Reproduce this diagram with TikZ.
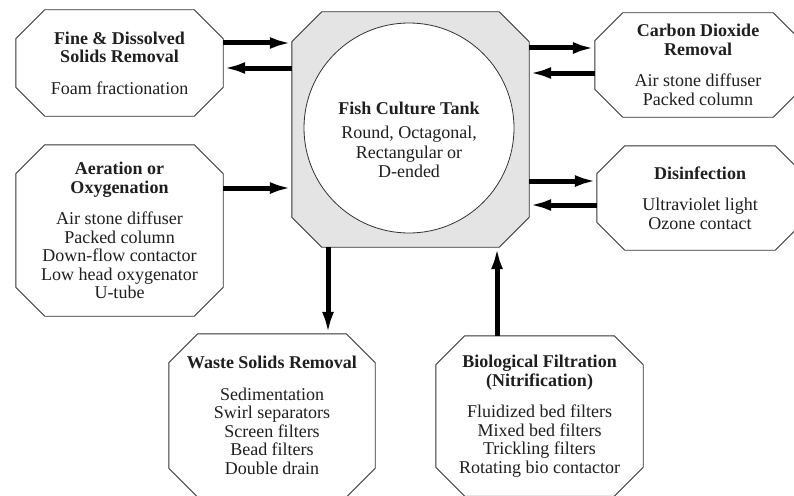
\documentclass[tikz,border=0pt]{standalone}
\usepackage{fontspec}
\setmainfont{Liberation Serif}
\usetikzlibrary{arrows.meta}
\definecolor{tankgray}{HTML}{E4E4E4}
\definecolor{edgegray}{HTML}{333333}
\tikzset{
  txt/.style={rectangle, inner sep=0pt, align=center, text=black!88,
    font=\fontsize{18}{18.5}\selectfont},
  boxline/.style={draw=edgegray, line width=0.9pt},
  arr/.style={line width=5pt, -{Latex[length=22pt,width=12pt]}},
}
% name, cx, cy, width, height, cut, text
\newcommand{\octbox}[7]{%
  \node[txt, minimum width=#4pt, minimum height=#5pt] (#1) at (#2,#3) {#7};
  \draw[boxline] ([xshift=#6pt]#1.north west) -- ([xshift=-#6pt]#1.north east)
    -- ([yshift=-#6pt]#1.north east) -- ([yshift=#6pt]#1.south east)
    -- ([xshift=-#6pt]#1.south east) -- ([xshift=#6pt]#1.south west)
    -- ([yshift=#6pt]#1.south west) -- ([yshift=-#6pt]#1.north west) -- cycle;
}
\begin{document}
\begin{tikzpicture}[x=1pt, y=-1pt]
\useasboundingbox (0,0) rectangle (794,495);
\fill[white] (0,0) rectangle (794,495);

% Fish culture tank
\node[rectangle, minimum width=237pt, minimum height=235pt, inner sep=0pt] (tank) at (410.5,129.5) {};
\draw[boxline, fill=tankgray] ([xshift=30pt]tank.north west) -- ([xshift=-30pt]tank.north east)
    -- ([yshift=-30pt]tank.north east) -- ([yshift=30pt]tank.south east)
    -- ([xshift=-30pt]tank.south east) -- ([xshift=30pt]tank.south west)
    -- ([yshift=30pt]tank.south west) -- ([yshift=-30pt]tank.north west) -- cycle;
\node[circle, draw=edgegray, line width=0.8pt, fill=white, minimum size=210pt, inner sep=0pt] (circ) at (409,128) {};
\node[txt, font=\fontsize{18}{19.5}\selectfont] (tanktext) at (409,140)
  {\textbf{Fish Culture Tank}\\[5pt]Round, Octagonal,\\Rectangular or\\D-ended};

% Treatment boxes
\octbox{fine}{119.5}{63}{207}{106}{29}{\textbf{Fine \& Dissolved}\\\textbf{Solids Removal}\\[13pt]Foam fractionation}
\octbox{aer}{119.5}{230.5}{207}{171}{29}{\textbf{Aeration or}\\\textbf{Oxygenation}\\[13pt]Air stone diffuser\\Packed column\\Down-flow contactor\\Low head oxygenator\\U-tube}
\octbox{carb}{698}{65}{206}{104}{28}{\textbf{Carbon Dioxide}\\\textbf{Removal}\\[13pt]Air stone diffuser\\Packed column}
\octbox{dis}{700}{198}{206}{104}{28}{\textbf{Disinfection}\\[13pt]Ultraviolet light\\Ozone contact}
\octbox{waste}{272}{415.5}{206}{163}{29}{\textbf{Waste Solids Removal}\\[13pt]Sedimentation\\Swirl separators\\Screen filters\\Bead filters\\Double drain}
\octbox{bio}{539.5}{416}{207}{160}{29}{\textbf{Biological Filtration}\\\textbf{(Nitrification)}\\[13pt]Fluidized bed filters\\Mixed bed filters\\Trickling filters\\Rotating bio contactor}

% Connectors
\draw[arr] (fine.east |- 0,43) -- (tank.west |- 0,43);
\draw[arr] (tank.west |- 0,68) -- (fine.east |- 0,68);
\draw[arr] (aer.east |- 0,188) -- (tank.west |- 0,188);
\draw[arr] (tank.east |- 0,48) -- (carb.west |- 0,48);
\draw[arr] (carb.west |- 0,73) -- (tank.east |- 0,73);
\draw[arr] (tank.east |- 0,181) -- (dis.west |- 0,181);
\draw[arr] (dis.west |- 0,205) -- (tank.east |- 0,205);
\draw[arr] (tank.south -| 328,0) -- (waste.north -| 328,0);
\draw[arr] (bio.north -| 497,0) -- (tank.south -| 497,0);
\end{tikzpicture}
\end{document}
